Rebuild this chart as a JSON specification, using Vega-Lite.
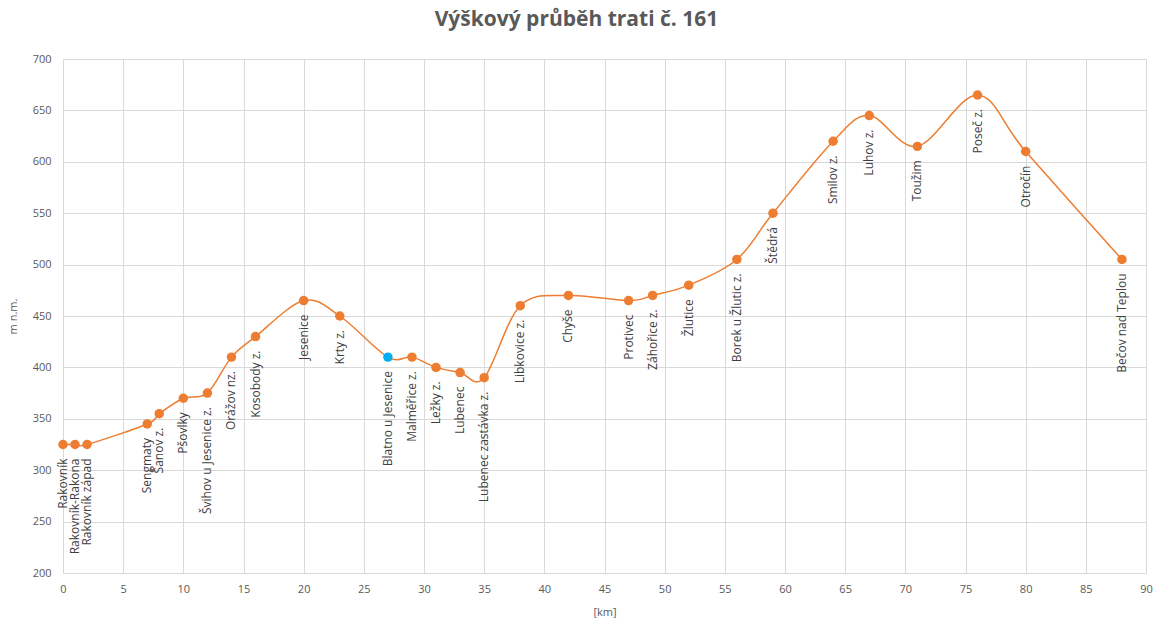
{
  "$schema": "https://vega.github.io/schema/vega-lite/v6.json",
  "autosize": "none",
  "width": 1083,
  "height": 514,
  "padding": {"left": 63, "top": 59, "right": 7, "bottom": 50},
  "background": "white",
  "title": {
    "text": "Výškový průběh trati č. 161",
    "font": "Open Sans",
    "fontSize": 21,
    "fontWeight": "bold",
    "color": "#595959",
    "anchor": "middle",
    "dx": -28,
    "offset": 23
  },
  "config": {
    "view": {"stroke": null},
    "axis": {
      "labelFont": "Open Sans",
      "titleFont": "Open Sans",
      "labelColor": "#595959",
      "titleColor": "#595959",
      "labelFontSize": 11,
      "titleFontSize": 11,
      "titleFontWeight": "normal",
      "gridColor": "#D9D9D9",
      "gridWidth": 1,
      "domain": false,
      "ticks": false
    }
  },
  "data": {
    "values": [
      {"km": 0, "alt": 325, "station": "Rakovník"},
      {"km": 1, "alt": 325, "station": "Rakovník-Rakona"},
      {"km": 2, "alt": 325, "station": "Rakovník západ"},
      {"km": 7, "alt": 345, "station": "Sengmaty"},
      {"km": 8, "alt": 355, "station": "Šanov z."},
      {"km": 10, "alt": 370, "station": "Pšovlky"},
      {"km": 12, "alt": 375, "station": "Švihov u Jesenice z."},
      {"km": 14, "alt": 410, "station": "Orážov nz."},
      {"km": 16, "alt": 430, "station": "Kosobody z."},
      {"km": 20, "alt": 465, "station": "Jesenice"},
      {"km": 23, "alt": 450, "station": "Krty z."},
      {"km": 27, "alt": 410, "station": "Blatno u Jesenice"},
      {"km": 29, "alt": 410, "station": "Malměřice z."},
      {"km": 31, "alt": 400, "station": "Ležky z."},
      {"km": 33, "alt": 395, "station": "Lubenec"},
      {"km": 35, "alt": 390, "station": "Lubenec zastávka z."},
      {"km": 38, "alt": 460, "station": "Libkovice z."},
      {"km": 42, "alt": 470, "station": "Chyše"},
      {"km": 47, "alt": 465, "station": "Protivec"},
      {"km": 49, "alt": 470, "station": "Záhořice z."},
      {"km": 52, "alt": 480, "station": "Žlutice"},
      {"km": 56, "alt": 505, "station": "Borek u Žlutic z."},
      {"km": 59, "alt": 550, "station": "Štědrá"},
      {"km": 64, "alt": 620, "station": "Smilov z."},
      {"km": 67, "alt": 645, "station": "Luhov z."},
      {"km": 71, "alt": 615, "station": "Toužim"},
      {"km": 76, "alt": 665, "station": "Poseč z."},
      {"km": 80, "alt": 610, "station": "Otročín"},
      {"km": 88, "alt": 505, "station": "Bečov nad Teplou"}
    ]
  },
  "encoding": {
    "x": {
      "field": "km",
      "type": "quantitative",
      "scale": {"domain": [0, 90], "nice": false},
      "axis": {"values": [0,5,10,15,20,25,30,35,40,45,50,55,60,65,70,75,80,85,90], "title": "[km]", "labelPadding": 10, "titlePadding": 12, "labelFlush": false}
    },
    "y": {
      "field": "alt",
      "type": "quantitative",
      "scale": {"domain": [200, 700], "nice": false, "zero": false},
      "axis": {"values": [200,250,300,350,400,450,500,550,600,650,700], "title": "m n.m.", "labelPadding": 12, "titlePadding": 14}
    }
  },
  "layer": [
    {
      "mark": {"type": "line", "interpolate": "cardinal", "color": "#ED7D31", "strokeWidth": 1.5}
    },
    {
      "mark": {"type": "circle", "size": 90, "opacity": 1},
      "encoding": {
        "color": {
          "condition": {"test": "datum.station === 'Blatno u Jesenice'", "value": "#00B0F0"},
          "value": "#ED7D31"
        }
      }
    },
    {
      "mark": {"type": "text", "angle": 270, "align": "right", "baseline": "middle", "dx": -14, "font": "Open Sans", "fontSize": 12, "color": "#404040"},
      "encoding": {"text": {"field": "station"}}
    }
  ]
}
